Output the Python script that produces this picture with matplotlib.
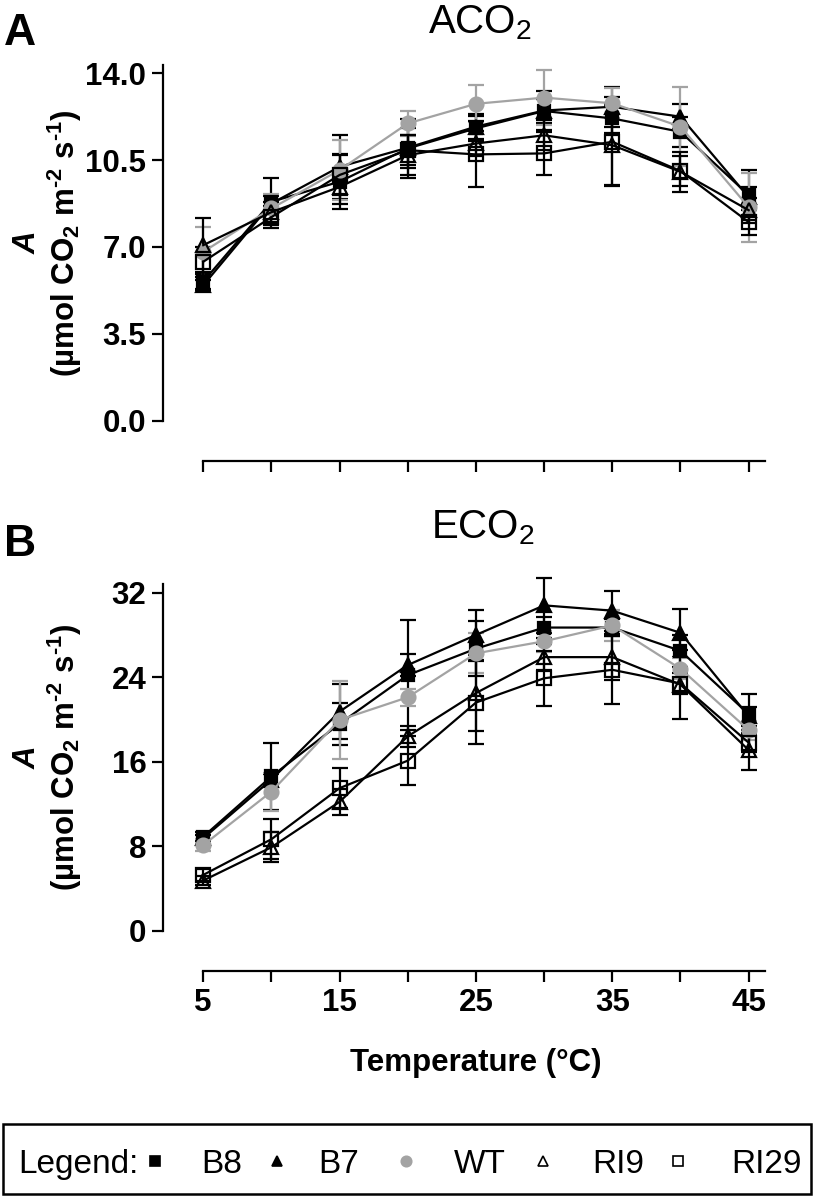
import numpy as np
import matplotlib
matplotlib.use("Agg")
import matplotlib.pyplot as plt
from matplotlib.lines import Line2D
from matplotlib.patches import Rectangle

plt.rcParams["font.family"] = ["Liberation Sans", "DejaVu Sans"]
plt.rcParams["mathtext.fontset"] = "custom"
plt.rcParams["mathtext.rm"] = "Liberation Sans:bold"
plt.rcParams["mathtext.it"] = "Liberation Sans:italic:bold"
plt.rcParams["mathtext.bf"] = "Liberation Sans:bold"
plt.rcParams["mathtext.sf"] = "Liberation Sans"

# ── Data ──────────────────────────────────────────────────────────────────────
temps = [5, 10, 15, 20, 25, 30, 35, 40, 45]
lines = ["B8", "B7", "WT", "RI9", "RI29"]

# ACO2, mean net assimilation
aco2_b8 = [5.6, 8.82, 9.63, 10.97, 11.78, 12.48, 12.18, 11.64, 9.09]
aco2_b7 = [5.45, 8.75, 10.23, 11.0, 11.85, 12.5, 12.65, 12.25, 9.0]
aco2_wt = [6.8, 8.55, 10.1, 11.98, 12.77, 13.02, 12.79, 11.85, 8.6]
aco2_ri9 = [7.07, 8.4, 9.42, 10.7, 11.17, 11.5, 11.1, 10.03, 8.48]
aco2_ri29 = [6.4, 8.2, 9.9, 10.9, 10.73, 10.77, 11.24, 10.06, 8.0]
# ACO2, error bars
aco2_b8_err = [0.3, 0.95, 1.1, 1.2, 0.5, 0.5, 0.6, 0.6, 1.0]
aco2_b7_err = [0.2, 0.3, 1.3, 0.8, 0.5, 0.8, 0.8, 0.5, 0.4]
aco2_wt_err = [1.0, 0.6, 1.2, 0.5, 0.75, 1.1, 0.6, 1.58, 1.4]
aco2_ri9_err = [1.08, 0.4, 0.7, 0.8, 0.5, 0.6, 1.6, 0.8, 0.5]
aco2_ri29_err = [0.6, 0.45, 0.8, 0.6, 1.33, 0.87, 1.8, 0.6, 0.5]

# ECO2, mean net assimilation
eco2_b8 = [8.9, 14.6, 19.6, 24.2, 26.7, 28.7, 28.7, 26.5, 20.5]
eco2_b7 = [8.75, 14.3, 20.74, 25.15, 28.0, 30.8, 30.3, 28.2, 20.3]
eco2_wt = [8.1, 13.17, 19.95, 22.1, 26.26, 27.4, 28.9, 24.8, 19.0]
eco2_ri9 = [4.75, 7.9, 12.2, 18.4, 22.5, 25.9, 25.9, 23.3, 17.1]
eco2_ri29 = [5.28, 8.66, 13.5, 16.1, 21.6, 23.9, 24.7, 23.4, 17.8]
# ECO2, error bars
eco2_b8_err = [0.4, 3.2, 2.0, 5.2, 2.6, 1.0, 0.8, 1.5, 1.9]
eco2_b7_err = [0.3, 0.5, 2.6, 1.0, 2.4, 2.6, 1.9, 2.3, 0.9]
eco2_wt_err = [0.6, 1.8, 3.7, 0.8, 1.9, 1.0, 1.5, 1.0, 0.9]
eco2_ri9_err = [0.4, 1.4, 1.2, 1.0, 3.6, 1.2, 2.2, 3.3, 1.9]
eco2_ri29_err = [0.6, 1.9, 1.9, 2.3, 3.9, 2.6, 3.2, 1.0, 0.9]

GREY = "#a3a3a3"
STYLE = {
    "B8": dict(marker="s", color="black", mfc="black", ms=9),
    "B7": dict(marker="^", color="black", mfc="black", ms=10),
    "WT": dict(marker="o", color=GREY, mfc=GREY, ms=10),
    "RI9": dict(marker="^", color="black", mfc="none", ms=10),
    "RI29": dict(marker="s", color="black", mfc="none", ms=10),
}

W, H = 814, 1197


def px_x(x):
    return x / W


def px_y(y):
    return 1 - y / H


def draw_panel(ax, means, errs, yticks, ylabels, ytop):
    for name, m, e in zip(lines, means, errs):
        st = STYLE[name]
        ax.errorbar(temps, m, yerr=e, color=st["color"], marker=st["marker"],
                    mfc=st["mfc"], mec=st["color"], ms=st["ms"], mew=1.6,
                    lw=1.6, elinewidth=1.6, capsize=6, capthick=1.6,
                    clip_on=False, zorder=3)
    ax.set_xlim(2.05, 46.3)
    ax.set_ylim(0, ytop)
    for s in ["top", "right"]:
        ax.spines[s].set_visible(False)
    ax.spines["left"].set_linewidth(1.6)
    ax.spines["bottom"].set_linewidth(1.6)
    ax.spines["left"].set_bounds(0, ytop * 1.025)
    ax.spines["bottom"].set_bounds(5, 46.2)
    ax.spines["bottom"].set_position(("outward", 29))
    ax.set_yticks(yticks)
    ax.set_yticklabels(ylabels, fontsize=22.5, fontweight="bold")
    ax.set_xticks(temps)
    ax.tick_params(axis="both", direction="out", length=8, width=1.6, pad=4)


fig = plt.figure(figsize=(W / 100, H / 100), dpi=100)

# axes placed to match the reference pixel layout
ax1 = fig.add_axes([px_x(163), px_y(420.5), (765 - 163 + 1.4) / W, (420.5 - 73.3) / H])
ax2 = fig.add_axes([px_x(163), px_y(930.7), (765 - 163 + 1.4) / W, (930.7 - 592.7) / H])

draw_panel(ax1,
           [aco2_b8, aco2_b7, aco2_wt, aco2_ri9, aco2_ri29],
           [aco2_b8_err, aco2_b7_err, aco2_wt_err, aco2_ri9_err, aco2_ri29_err],
           [0, 3.5, 7, 10.5, 14], ["0.0", "3.5", "7.0", "10.5", "14.0"], 14)
ax1.set_xticklabels([])

draw_panel(ax2,
           [eco2_b8, eco2_b7, eco2_wt, eco2_ri9, eco2_ri29],
           [eco2_b8_err, eco2_b7_err, eco2_wt_err, eco2_ri9_err, eco2_ri29_err],
           [0, 8, 16, 24, 32], ["0", "8", "16", "24", "32"], 32)
ax2.set_xticklabels([str(t) if t % 10 == 5 else "" for t in temps],
                    fontsize=22.5, fontweight="bold")

# panel letters and titles
fig.text(px_x(4), px_y(45), "A", fontsize=32, fontweight="bold", va="baseline")
fig.text(px_x(4), px_y(556), "B", fontsize=32, fontweight="bold", va="baseline")
fig.text(px_x(480), px_y(33), r"ACO$_\mathsf{2}$", fontsize=29, ha="center", va="baseline")
fig.text(px_x(483), px_y(538), r"ECO$_\mathsf{2}$", fontsize=29, ha="center", va="baseline")

# y axis labels
unit = "(µmol CO$_2$ m$^{‐2}$ s$^{‐1}$)"
for yc in [(73.3 + 420.5) / 2 - 4, (592.7 + 930.7) / 2 - 4]:
    fig.text(px_x(28), px_y(yc), "A", fontsize=22.5, fontweight="bold",
             style="italic", rotation=90, ha="center", va="center")
    fig.text(px_x(65), px_y(yc), unit, fontsize=22.5, fontweight="bold",
             rotation=90, ha="center", va="center")

fig.text(px_x(476), px_y(1071), "Temperature (°C)", fontsize=22.5,
         fontweight="bold", ha="center", va="baseline")

# legend box
fig.add_artist(Rectangle((px_x(3), px_y(1194)), (811 - 3) / W, (1194 - 1124) / H,
                         transform=fig.transFigure, fill=False, lw=1.8, ec="black"))
fig.text(px_x(18), px_y(1173), "Legend:", fontsize=24, va="baseline")
mark_x = [155, 277, 406, 543, 678]
text_x = [201, 318, 454, 592, 731]
for name, mx, tx in zip(lines, mark_x, text_x):
    st = STYLE[name]
    fig.add_artist(Line2D([px_x(mx)], [px_y(1161)], transform=fig.transFigure,
                          marker=st["marker"], color=st["color"], mfc=st["mfc"],
                          mec=st["color"], ms=7.5, mew=1.2, ls="none"))
    fig.text(px_x(tx), px_y(1173), name, fontsize=24, va="baseline")

plt.savefig("out.png", dpi=100)
